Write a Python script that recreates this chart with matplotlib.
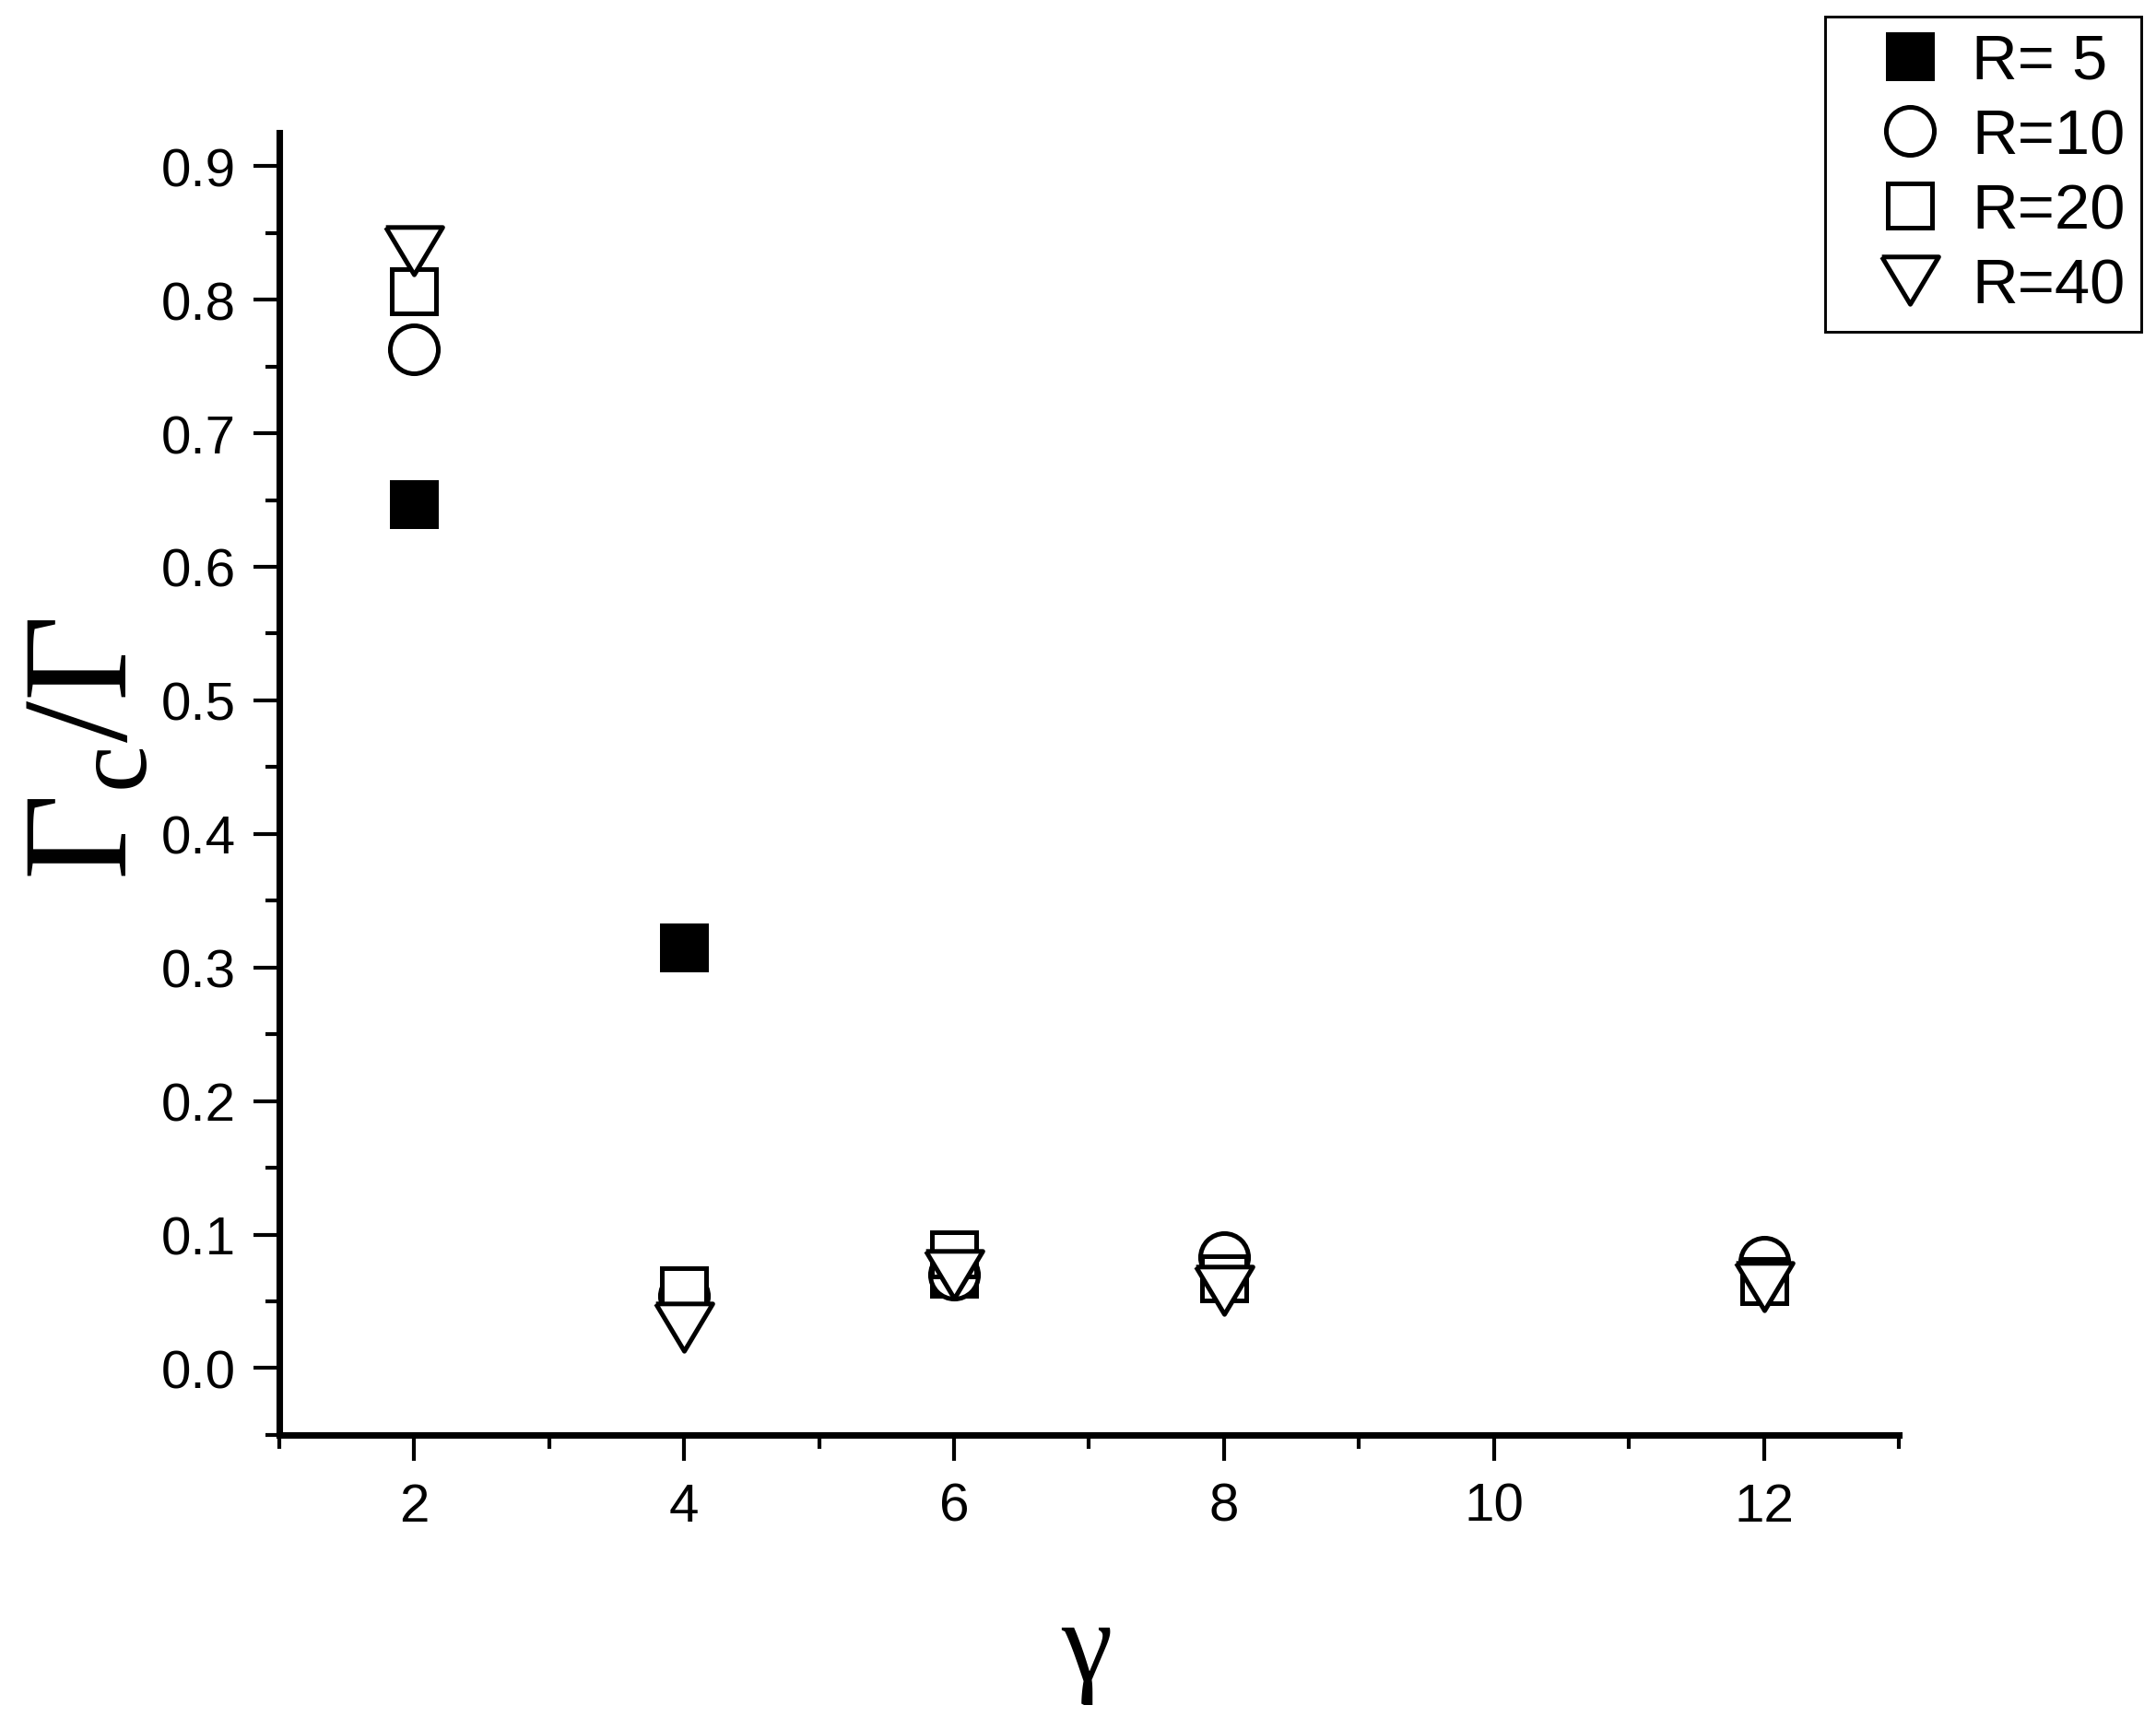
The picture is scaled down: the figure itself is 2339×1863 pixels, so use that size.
import matplotlib
matplotlib.use("Agg")
import matplotlib.pyplot as plt
import numpy as np
from matplotlib.ticker import MultipleLocator, FormatStrFormatter

# --- data ---
gamma = [2, 4, 6, 8, 12]
r5 = [0.647, 0.315, 0.071, np.nan, np.nan]
r10 = [0.763, 0.054, 0.070, 0.083, 0.080]
r20 = [0.806, 0.058, 0.085, 0.067, 0.065]
r40 = [0.837, 0.031, 0.070, 0.058, 0.061]
labels = ["R= 5", "R=10", "R=20", "R=40"]

plt.rcParams['font.family'] = ['Liberation Sans', 'DejaVu Sans']
plt.rcParams['mathtext.fontset'] = 'custom'
plt.rcParams['mathtext.rm'] = 'Liberation Serif'
plt.rcParams['mathtext.it'] = 'Liberation Serif:italic'

fig = plt.figure(figsize=(2339 / 300, 1864 / 300), dpi=300)
ax = fig.add_axes([0.1295, 0.1642, 0.7512, 0.758])

# down triangle, wider than tall
tri = [(-1.2, 1.0), (1.2, 1.0), (0.0, -1.0), (-1.2, 1.0)]

mew = 1.2
ax.plot(gamma, r5, ls='none', marker='s', ms=11.6, mfc='black', mec='black', mew=mew, label=labels[0])
ax.plot(gamma, r10, ls='none', marker='o', ms=12.5, mfc='white', mec='black', mew=mew, label=labels[1])
ax.plot(gamma, r20, ls='none', marker='s', ms=11.6, mfc='white', mec='black', mew=mew, label=labels[2])
ax.plot(gamma, r40, ls='none', marker=tri, ms=14.8, mfc='white', mec='black', mew=mew, label=labels[3])

ax.set_xlim(1, 13)
ax.set_ylim(-0.05, 0.925)
ax.xaxis.set_major_locator(MultipleLocator(2))
ax.xaxis.set_minor_locator(MultipleLocator(1))
ax.yaxis.set_major_locator(MultipleLocator(0.1))
ax.yaxis.set_minor_locator(MultipleLocator(0.05))
ax.yaxis.set_major_formatter(FormatStrFormatter('%.1f'))

for s in ['top', 'right']:
    ax.spines[s].set_visible(False)
for s in ['left', 'bottom']:
    ax.spines[s].set_linewidth(1.7)

ax.tick_params(which='major', direction='out', length=6.7, width=1.0, labelsize=14, pad=4.5)
ax.tick_params(which='minor', direction='out', length=3.6, width=1.0)
ax.tick_params(axis='x', which='major', pad=5.5)

fig.text(0.504, 0.038, 'γ', fontsize=30, family='Liberation Serif', ha='center', va='center')
fig.text(0.041, 0.564, r'$\Gamma_{\mathrm{c}}/\Gamma$', fontsize=39, rotation=90,
         ha='center', va='center')

leg = ax.legend(loc='upper right', bbox_to_anchor=(0.993, 0.990), bbox_transform=fig.transFigure,
                numpoints=1, fontsize=16.5, frameon=True, fancybox=False, framealpha=1,
                edgecolor='black', handlelength=2.19, handletextpad=-0.12, labelspacing=0.25,
                borderpad=0.25, borderaxespad=0)
leg.get_frame().set_linewidth(0.7)

fig.savefig('out.png', dpi=300)
